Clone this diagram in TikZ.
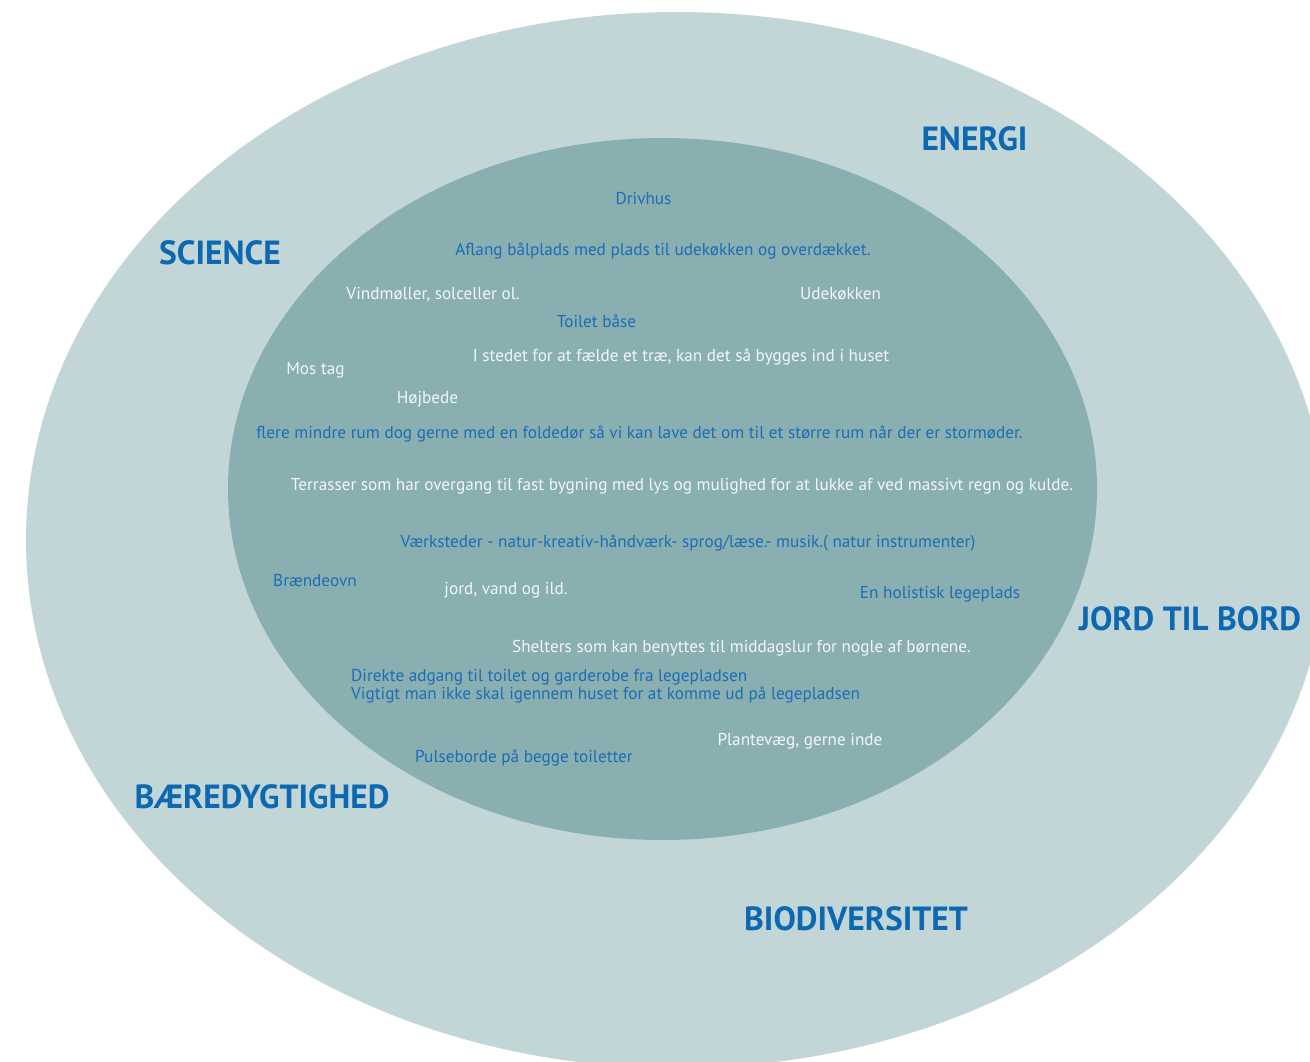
\documentclass[tikz,border=0pt]{standalone}
\usepackage{fontspec}
\setmainfont{PT Sans}

\definecolor{ringlight}{HTML}{C2D6D8}
\definecolor{ringdark}{HTML}{8AAFB1}
\definecolor{ideablue}{HTML}{1B6DB6}
\definecolor{themeblue}{HTML}{0B68B1}
\definecolor{ideawhite}{HTML}{F2F6F6}

\begin{document}
\begin{tikzpicture}[%
    x=1pt, y=-1pt,              % work on the pixel grid, y going down
    every node/.style={inner sep=0pt, anchor=mid},
    ]
% -------------------------------------------------
% Text styles
\tikzset{
  theme/.style={font=\fontsize{33.5}{38}\selectfont\bfseries, text=themeblue, yshift=-10pt},
  idea/.style={font=\fontsize{17.2}{20}\selectfont, text=ideablue, yshift=-4pt},
  wish/.style={font=\fontsize{17.2}{20}\selectfont, text=ideawhite, yshift=-4pt},
}
\useasboundingbox (0,0) rectangle (1310,1061);
\clip (0,0) rectangle (1310,1061);
\fill[white] (0,0) rectangle (1310,1061);
% -------------------------------------------------
% The two rings
\fill[ringlight] (677,540) ellipse [x radius=651, y radius=528];
\fill[ringdark] (662.5,489) ellipse [x radius=434.5, y radius=351];
% -------------------------------------------------
% Themes in the outer ring
\node[theme] (energi) at (974.5,138) {ENERGI};
\node[theme] (science) at (220,252) {SCIENCE};
\node[theme] (jord) at (1190,618) {JORD TIL BORD};
\node[theme] (baer) at (262,796) {BÆREDYGTIGHED};
\node[theme] (bio) at (856,918) {BIODIVERSITET};
% -------------------------------------------------
% Ideas in the inner ring
\node[idea] (drivhus) at (643.5,198) {Drivhus};
\node[idea] (baal) at (663,249) {Aflang bålplads med plads til udekøkken og overdækket.};
\node[wish] (vind) at (433,293) {Vindmøller, solceller ol.};
\node[wish] (ude) at (840.5,293) {Udekøkken};
\node[idea] (toilet) at (596.5,321) {Toilet båse};
\node[wish] (trae) at (681,355) {I stedet for at fælde et træ, kan det så bygges ind i huset};
\node[wish] (mos) at (315.5,368) {Mos tag};
\node[wish] (hoej) at (427.5,397) {Højbede};
\node[idea] (rum) at (639.5,432) {flere mindre rum dog gerne med en foldedør så vi kan lave det om til et større rum når der er stormøder.};
\node[wish] (terr) at (682,484) {Terrasser som har overgang til fast bygning med lys og mulighed for at lukke af ved massivt regn og kulde.};
\node[idea] (vaerk) at (688,541) {Værksteder - natur-kreativ-håndværk- sprog/læse.- musik.( natur instrumenter)};
\node[idea] (braende) at (315,580) {Brændeovn};
\node[wish] (ild) at (506,588) {jord, vand og ild.};
\node[idea] (holist) at (940,592) {En holistisk legeplads};
\node[wish] (shelter) at (741.5,646) {Shelters som kan benyttes til middagslur for nogle af børnene.};
\node[idea, anchor=west, align=left, font=\fontsize{17.2}{18}\selectfont] (adgang) at (351,682)
  {Direkte adgang til toilet og garderobe fra legepladsen\\Vigtigt man ikke skal igennem huset for at komme ud på legepladsen};
\node[wish] (plante) at (800,739) {Plantevæg, gerne inde};
\node[idea] (puls) at (524,756) {Pulseborde på begge toiletter};
% -------------------------------------------------
\end{tikzpicture}
\end{document}
